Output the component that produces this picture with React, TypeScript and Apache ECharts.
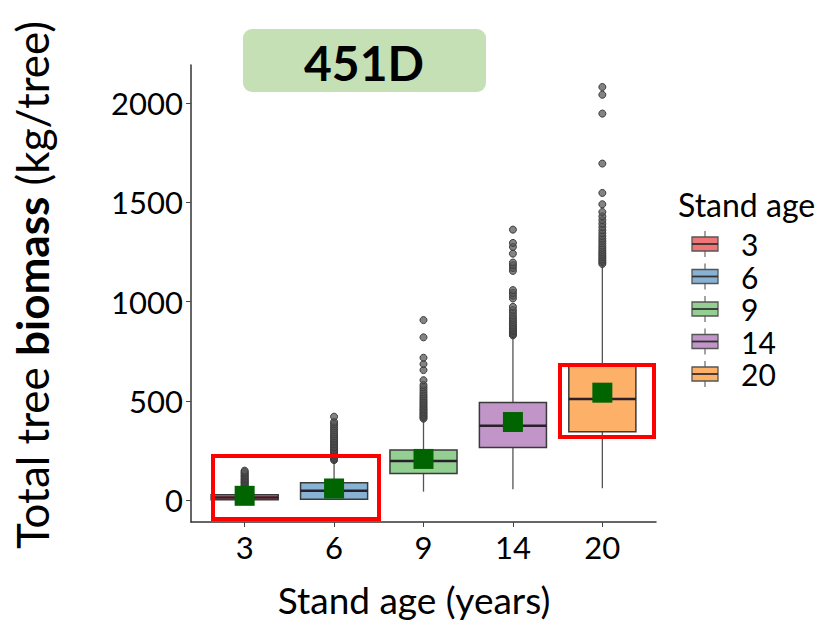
import React, { useEffect, useRef } from "react";
import * as echarts from "echarts";

const categories = ["3", "6", "9", "14", "20"];
const boxColors = ["#EF7677", "#87B2D4", "#94CF92", "#C195C8", "#FDB068"];
const boxMin = [0, 0, 42, 54, 59];
const boxQ1 = [1, 4, 134, 264, 344];
const boxMedian = [12, 47, 196, 374, 509];
const boxQ3 = [26, 87, 252, 492, 675];
const boxMax = [60, 195, 403, 823, 1189];
const means = [21, 58, 207, 393, 541];

const out3 = [64, 69, 73, 78, 84, 88, 92, 97, 102, 106, 111, 117, 121, 126, 132, 137, 142, 148];
const out6 = [201, 206, 212, 219, 225, 231, 238, 244, 251, 259, 266, 273, 281, 289, 297, 305, 313, 322, 331, 340, 350, 360, 371, 383, 394, 420];
const out9 = [410, 416, 423, 429, 436, 443, 450, 457, 464, 472, 480, 488, 496, 505, 514, 523, 533, 544, 556, 568, 580, 604, 655, 685, 717, 820, 907];
const out14 = [830, 836, 843, 850, 857, 864, 872, 880, 889, 898, 908, 918, 930, 944, 958, 974, 1016, 1030, 1044, 1058, 1155, 1170, 1184, 1197, 1242, 1276, 1296, 1363];
const out20 = [1190, 1198, 1206, 1214, 1223, 1232, 1241, 1250, 1260, 1271, 1282, 1294, 1306, 1318, 1331, 1345, 1360, 1376, 1393, 1411, 1430, 1452, 1491, 1548, 1696, 1948, 2043, 2082];
const outliers = [out3, out6, out9, out14, out20];

const yTicks = [0, 500, 1000, 1500, 2000];
const titleText = "451D";
const legendTitle = "Stand age";

const FONT = "Lato";

export default function App() {
  const ref = useRef<HTMLDivElement>(null);
  useEffect(() => {
    if (!ref.current) return;
    const chart = echarts.init(ref.current, null, { renderer: "svg" });

    const boxData = categories.map((_, i) => [i + 1, boxMin[i], boxQ1[i], boxMedian[i], boxQ3[i], boxMax[i]]);
    const outlierData: number[][] = [];
    outliers.forEach((arr, i) => arr.forEach((v) => outlierData.push([i + 1, v])));
    const meanData = means.map((m, i) => [i + 1, m]);

    const legendItems: any[] = [];
    const rowY = [244, 276.5, 309, 341.5, 374];
    categories.forEach((c, i) => {
      const cy = rowY[i];
      legendItems.push(
        { type: "line", shape: { x1: 705, y1: cy - 13, x2: 705, y2: cy + 13 }, style: { stroke: "#666", lineWidth: 1.2 } },
        { type: "rect", shape: { x: 692, y: cy - 7, width: 26, height: 14 }, style: { fill: boxColors[i], stroke: "#555", lineWidth: 1.3 } },
        { type: "line", shape: { x1: 692, y1: cy, x2: 718, y2: cy }, style: { stroke: "#333", lineWidth: 1.8 } },
        { type: "text", x: 741, y: cy, style: { text: c, fontFamily: FONT, fontSize: 30, lineHeight: 30, fill: "#000", textAlign: "left", textVerticalAlign: "middle" } }
      );
    });

    chart.setOption({
      animation: false,
      backgroundColor: "#fff",
      grid: { left: 191, right: 165, top: 65, bottom: 102, containLabel: false },
      xAxis: {
        type: "value",
        min: 0.4,
        max: 5.6,
        splitLine: { show: false },
        axisLine: { show: true, onZero: false, lineStyle: { color: "#333", width: 1.5 } },
        axisTick: { show: true, length: 5, customValues: [1, 2, 3, 4, 5], lineStyle: { color: "#444", width: 1 } },
        axisLabel: {
          customValues: [1, 2, 3, 4, 5],
          formatter: (v: number) => categories[Math.round(v) - 1],
          margin: 9,
          fontFamily: FONT,
          fontSize: 31,
          color: "#000",
        },
      },
      yAxis: {
        type: "value",
        min: -111,
        max: 2193,
        splitLine: { show: false },
        axisLine: { show: true, onZero: false, lineStyle: { color: "#333", width: 1.5 } },
        axisTick: { show: true, length: 5, customValues: yTicks, lineStyle: { color: "#444", width: 1 } },
        axisLabel: {
          customValues: yTicks,
          formatter: (v: number) => String(v),
          margin: 8,
          fontFamily: FONT,
          fontSize: 31,
          color: "#000",
        },
      },
      series: [
        {
          type: "custom",
          data: boxData,
          encode: { x: 0, y: [1, 2, 3, 4, 5] },
          renderItem: (params: any, api: any) => {
            const x = api.value(0);
            const lo = api.coord([x, api.value(1)]);
            const q1 = api.coord([x, api.value(2)]);
            const med = api.coord([x, api.value(3)]);
            const q3 = api.coord([x, api.value(4)]);
            const hi = api.coord([x, api.value(5)]);
            const halfW = api.size([0.75, 0])[0] / 2;
            const color = boxColors[params.dataIndex];
            return {
              type: "group",
              children: [
                { type: "line", shape: { x1: lo[0], y1: lo[1], x2: q1[0], y2: q1[1] }, style: { stroke: "#555", lineWidth: 1.3 } },
                { type: "line", shape: { x1: q3[0], y1: q3[1], x2: hi[0], y2: hi[1] }, style: { stroke: "#555", lineWidth: 1.3 } },
                {
                  type: "rect",
                  shape: { x: q1[0] - halfW, y: q3[1], width: halfW * 2, height: Math.max(q1[1] - q3[1], 1) },
                  style: { fill: color, stroke: "#3a3a3a", lineWidth: 1.5 },
                },
                { type: "line", shape: { x1: med[0] - halfW, y1: med[1], x2: med[0] + halfW, y2: med[1] }, style: { stroke: "#2a1f2a", lineWidth: 2.5 } },
              ],
            };
          },
          z: 2,
        },
        {
          type: "scatter",
          data: outlierData,
          symbol: "circle",
          symbolSize: 7,
          itemStyle: { color: "rgba(90,90,90,0.75)", borderColor: "#3c3c3c", borderWidth: 1, opacity: 1 },
          z: 3,
        },
        {
          type: "scatter",
          data: meanData,
          symbol: "rect",
          symbolSize: 20,
          itemStyle: { color: "#006400", opacity: 1 },
          z: 4,
        },
      ],
      graphic: [
        { type: "rect", shape: { x: 243, y: 29, width: 243, height: 63, r: 9 }, style: { fill: "#C5E0B4" }, z: 10 },
        { type: "text", x: 364, y: 62, style: { text: titleText, font: `bold 48px ${FONT}`, fill: "#000", textAlign: "center", textVerticalAlign: "middle" }, z: 11 },
        { type: "rect", shape: { x: 213, y: 456, width: 166, height: 63 }, style: { fill: "none", stroke: "#FF0000", lineWidth: 4 }, z: 10 },
        { type: "rect", shape: { x: 560, y: 365, width: 94, height: 72 }, style: { fill: "none", stroke: "#FF0000", lineWidth: 4 }, z: 10 },
        {
          type: "text",
          x: 32,
          y: 285,
          rotation: Math.PI / 2,
          style: {
            text: "{n|Total tree }{b|biomass}{n| (kg/tree)}",
            textAlign: "center",
            textVerticalAlign: "middle",
            rich: {
              n: { fontFamily: FONT, fontSize: 44, fill: "#000", color: "#000" },
              b: { fontFamily: FONT, fontSize: 44, fontWeight: "bold", fill: "#000", color: "#000" },
            },
          },
          z: 10,
        },
        { type: "text", x: 414, y: 599, style: { text: "Stand age (years)", font: `37px ${FONT}`, fill: "#000", textAlign: "center", textVerticalAlign: "middle" }, z: 10 },
        { type: "text", x: 678, y: 204, style: { text: legendTitle, font: `32px ${FONT}`, fill: "#000", textAlign: "left", textVerticalAlign: "middle" }, z: 10 },
        { type: "group", children: legendItems, z: 10 },
      ],
    });
    return () => chart.dispose();
  }, []);
  return <div ref={ref} style={{ position: "fixed", left: 0, top: 0, width: 821, height: 624 }} />;
}
